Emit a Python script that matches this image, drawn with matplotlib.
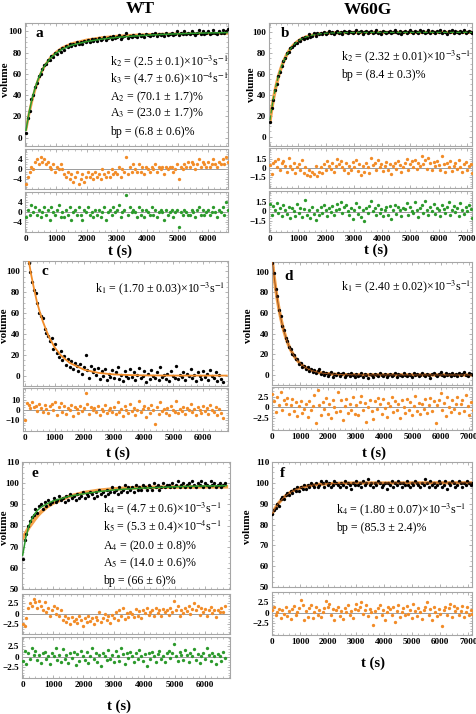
import matplotlib
matplotlib.use("Agg")
import matplotlib.pyplot as plt
from matplotlib.ticker import AutoMinorLocator

plt.rcParams["font.family"] = ["Liberation Serif", "DejaVu Serif"]
plt.rcParams["mathtext.fontset"] = "stix"

# ---------------------------------------------------------------------
# Data
# ---------------------------------------------------------------------
t_wt = [
    0, 60, 120, 180, 240, 300, 360, 420, 480, 540,
    600, 660, 720, 780, 840, 900, 960, 1020, 1080, 1140,
    1200, 1260, 1320, 1380, 1440, 1500, 1560, 1620, 1680, 1740,
    1800, 1860, 1920, 1980, 2040, 2100, 2160, 2220, 2280, 2340,
    2400, 2460, 2520, 2580, 2640, 2700, 2760, 2820, 2880, 2940,
    3000, 3060, 3120, 3180, 3240, 3300, 3360, 3420, 3480, 3540,
    3600, 3660, 3720, 3780, 3840, 3900, 3960, 4020, 4080, 4140,
    4200, 4260, 4320, 4380, 4440, 4500, 4560, 4620, 4680, 4740,
    4800, 4860, 4920, 4980, 5040, 5100, 5160, 5220, 5280, 5340,
    5400, 5460, 5520, 5580, 5640, 5700, 5760, 5820, 5880, 5940,
    6000, 6060, 6120, 6180, 6240, 6300, 6360, 6420, 6480, 6540,
    6600, 6660,
]
t_w60g = [
    0, 60, 120, 180, 240, 300, 360, 420, 480, 540,
    600, 660, 720, 780, 840, 900, 960, 1020, 1080, 1140,
    1200, 1260, 1320, 1380, 1440, 1500, 1560, 1620, 1680, 1740,
    1800, 1860, 1920, 1980, 2040, 2100, 2160, 2220, 2280, 2340,
    2400, 2460, 2520, 2580, 2640, 2700, 2760, 2820, 2880, 2940,
    3000, 3060, 3120, 3180, 3240, 3300, 3360, 3420, 3480, 3540,
    3600, 3660, 3720, 3780, 3840, 3900, 3960, 4020, 4080, 4140,
    4200, 4260, 4320, 4380, 4440, 4500, 4560, 4620, 4680, 4740,
    4800, 4860, 4920, 4980, 5040, 5100, 5160, 5220, 5280, 5340,
    5400, 5460, 5520, 5580, 5640, 5700, 5760, 5820, 5880, 5940,
    6000, 6060, 6120, 6180, 6240, 6300, 6360, 6420, 6480, 6540,
    6600, 6660, 6720, 6780, 6840, 6900, 6960, 7020, 7080, 7140,
    7200,
]

# panel a (WT)
vol_a = [
    4, 18, 25, 36, 40, 48, 51, 58, 60, 65,
    68, 69, 73, 73, 77, 76, 80, 79, 83, 81,
    84, 83, 86, 85, 88, 86, 88, 87, 90, 88,
    90, 88, 91, 90, 92, 90, 93, 91, 93, 91,
    94, 92, 93, 95, 92, 94, 95, 93, 96, 94,
    95, 97, 93, 95, 96, 99, 94, 96, 95, 97,
    96, 95, 98, 96, 97, 95, 98, 97, 96, 98,
    97, 99, 96, 98, 97, 98, 96, 99, 97, 98,
    99, 97, 98, 100, 97, 99, 98, 100, 98, 99,
    98, 100, 99, 97, 99, 101, 98, 100, 98, 99,
    100, 98, 99, 101, 99, 98, 100, 99, 101, 99,
    100, 102,
]
res1_a = [
    -6, -3, -1, 1, 0, 3, 4, 2, 5, 3,
    4, 2, 3, 1, 0, 2, -1, 1, 0, 2,
    0, -2, -3, -1, -4, -2, -5, -3, -1, -6,
    -4, -2, -5, -3, -1, -3, -2, -4, -1, -3,
    -2, -4, 0, -2, -3, -1, -3, 0, -2, -1,
    -2, 1, -3, 0, -1, 5, -2, 1, -1, 2,
    0, -1, 2, -1, 1, -2, 1, 0, -1, 1,
    0, 2, -1, 1, 0, 1, -2, 1, 0, 1,
    1, -1, 0, 2, -4, 1, 0, 2, 1, 3,
    1, 3, 2, 0, 2, 4, 1, 3, 2, 1,
    3, 1, 2, 4, 2, 1, 3, 2, 4, 2,
    5, 3,
]
res2_a = [
    -2, 1, -1, 3, 0, 2, -1, 1, -2, 0,
    2, -1, 1, -3, 2, 0, -1, 1, 3, -2,
    0, -2, 1, -1, 2, -3, 0, 1, -1, 2,
    -1, -3, 1, 0, 2, -1, 0, -2, 1, -1,
    1, -2, 0, 2, -3, 0, 1, -1, 2, 0,
    1, 3, -2, 0, 1, 7, -1, 2, 0, 1,
    0, -2, 2, -1, 1, -2, 1, 0, -1, 2,
    -1, 1, -2, 0, 1, 0, -3, 1, -1, 0,
    1, -2, 0, 1, -6, 0, -1, 1, 0, -1,
    -1, 1, 0, -2, 1, 2, -1, 1, -1, 0,
    1, -1, 0, 2, 0, -2, 1, 0, 2, -1,
    4, 1,
]
fit_t_a = [0, 100, 200, 300, 400, 500, 600, 800, 1000, 1200, 1500,
           2000, 2500, 3000, 3500, 4000, 4500, 5000, 5500, 6000, 6700]
fit1_a = [7.5, 22.5, 35, 45.5, 54, 61, 66.8, 75, 80.6, 84.6, 88.5,
          92, 94.2, 95.6, 96.5, 97.1, 97.5, 97.8, 98, 98.1, 98.2]
fit2_a = [6.9, 23.5, 36.6, 46.9, 55.1, 61.7, 67.1, 74.7, 79.8, 83.4, 87.0,
          90.5, 92.8, 94.4, 95.6, 96.5, 97.2, 97.8, 98.3, 98.6, 99.0]

# panel b (W60G)
vol_b = [
    14, 27, 35, 45, 50, 58, 62, 68, 73, 75,
    80, 81, 85, 86, 88, 90, 90, 93, 92, 95,
    94, 96, 95, 98, 96, 97, 99, 97, 99, 98,
    99, 98, 100, 98, 99, 101, 99, 100, 98, 100,
    101, 99, 100, 98, 101, 100, 99, 101, 100, 99,
    100, 102, 99, 100, 101, 98, 100, 101, 99, 100,
    101, 99, 100, 102, 99, 100, 98, 101, 100, 99,
    100, 101, 99, 100, 102, 100, 99, 101, 98, 100,
    101, 99, 100, 102, 100, 99, 101, 100, 99, 102,
    100, 101, 99, 100, 102, 99, 101, 100, 99, 101,
    100, 102, 99, 101, 100, 98, 101, 100, 102, 99,
    101, 100, 99, 101, 100, 102, 99, 100, 101, 100,
    99,
]
res1_b = [
    0.5, -1, 0.8, 1.2, 0.2, 1.5, -0.4, 0.9, 1.1, 0.3,
    -0.6, 1.6, 0.4, -0.2, 0.8, -0.9, 0.1, 0.6, -0.4, 1.3,
    -0.8, 0.2, -1.1, -0.3, -1.4, -0.6, -1, 0.3, -1.3, -0.7,
    0.2, -0.9, 0.6, -0.4, 1.2, 0.4, -0.2, 0.9, -0.6, 0.3,
    1.5, 0.6, 1.1, 0.2, -0.3, 0.9, -0.8, 0.4, -0.4, 1,
    0.1, 1.4, -0.5, 0.6, -1.2, 0.3, -0.6, 0.8, 0.2, -0.9,
    1.6, 0.5, 0.9, -0.3, 1.3, 0.1, 0.7, -0.5, 0.4, 1,
    -0.4, 0.6, -1, 0.3, 0.9, -0.2, 1.2, 0.5, -0.6, 0.2,
    0.8, 1.5, -0.3, 0.6, 1.1, 0.2, 1.4, -0.2, 0.9, 0.4,
    2, 0.6, 1.3, -0.1, 1.7, 0.8, -0.4, 1, 0.3, 1.2,
    0.5, -0.3, 1.9, 0.7, -0.6, 0.9, 0.2, 1.1, -0.5, 0.4,
    0.8, -0.2, 1.3, 0.1, -0.7, 0.6, 1, -0.4, 0.3, 0.7,
    -0.9,
]
res2_b = [
    1.2, -0.5, 0.9, 0.3, 1.4, -0.2, 0.6, -0.8, 1, 0.2,
    -0.4, 0.8, -1.1, 0.5, 0.1, -0.7, 1.2, -0.3, 0.6, -0.9,
    0.4, 1.8, -0.6, 0.2, -1, 0.7, -0.4, -1.3, 0.3, -0.5,
    0.8, -0.2, 1.1, 0.3, -0.8, 0.5, -0.1, 0.9, -0.6, 0.2,
    1.2, 0.4, 1.5, -0.3, 0.7, 1, 0.1, -0.5, 0.6, -1.2,
    0.3, 1.4, -0.4, 0.8, -0.9, 0.2, -1.6, 0.5, -0.3, 0.9,
    1.7, 0.1, 0.6, -0.6, 1, -0.2, 0.4, -0.8, 0.3, 0.7,
    -0.5, 0.9, -1.2, 0.2, 1.1, -0.4, 0.8, 0.3, -0.7, 0.5,
    0.4, 1.3, -0.6, 0.7, 0.1, -0.3, 1.6, 0.2, -0.9, 0.6,
    1, -0.2, 1.7, 0.3, -0.5, 0.8, 0.1, 1.2, -0.4, 0.5,
    0.2, -0.8, 1.1, 0.4, -0.3, 0.7, 1.5, -0.6, 0.3, 0.9,
    -0.1, 0.6, -0.7, 1.3, 0.2, -0.4, 0.8, 0.1, 1, 0.4,
    -1.1,
]
fit_t_b = [0, 60, 120, 180, 240, 300, 360, 420, 480, 540, 600, 720,
           840, 960, 1080, 1200, 1400, 1600, 1800, 2000, 2500, 3000, 7200]
fit1_b = [15, 26.2, 35.8, 44.1, 51.3, 57.7, 63.1, 67.8, 71.9, 75.3, 78.9, 84,
          87.9, 90.8, 93, 94.7, 96.6, 97.9, 98.7, 99.2, 99.7, 99.9, 100]
fit2_b = [16, 27, 36.5, 44.7, 51.8, 58, 63.4, 68, 72, 75.5, 79, 84,
          87.9, 90.8, 93, 94.7, 96.6, 97.9, 98.7, 99.2, 99.7, 99.9, 100]

# panel c (WT)
vol_c = [
    135, 121, 108, 99, 90, 82, 79, 70, 60, 57,
    55, 45, 41, 38, 33, 36, 26, 30, 22, 18,
    24, 15, 19, 10, 16, 8, 14, 6, 12, 9,
    4, 11, 2, 8, 20, 5, -2, 9, 3, 6,
    1, 7, -3, 4, 0, 6, -4, 2, -1, 5,
    -2, 3, 8, -3, 1, -5, 4, 0, -2, 6,
    -1, 3, -4, 1, 7, -2, 0, 4, -6, 2,
    -3, 5, 0, -2, 3, -4, 8, -1, 1, -3,
    2, -5, 4, 0, -2, 9, -3, 1, -1, 3,
    -4, 2, 0, 6, -2, 1, -5, 3, 0, -3,
    4, -1, 2, -4, 5, 0, -2, 3, -5, 1,
    -3, -6,
]
res_c = [
    -10, 7, 5, 2, 8, 3, 4, -1, 6, 2,
    -2, 5, 1, -3, 4, 6, 0, 8, -5, 3,
    7, -2, 4, -4, 2, 0, 5, -6, 3, 1,
    -3, 4, -1, 2, 17, 6, -4, 3, 0, 2,
    -2, 4, -5, 1, -1, 5, -3, 0, 2, -2,
    3, -4, 8, -2, 1, -6, 4, 0, -3, 6,
    -1, 2, -5, 0, 9, -2, 1, 4, -7, 2,
    -3, 5, 0, -14, 3, -4, 8, -1, 1, -3,
    2, -5, 4, 0, -2, 9, -3, 1, -1, 3,
    -4, 2, 0, 6, -2, 1, -5, 3, 0, -3,
    4, -1, 2, -4, 5, 0, -2, 3, -5, 1,
    -3, -8,
]
fit_t_c = [0, 100, 200, 300, 400, 500, 600, 800, 1000, 1200, 1500,
           2000, 2500, 3000, 3500, 4000, 5000, 6800]
fit_c = [135, 115, 98, 84, 71, 61, 52, 37.5, 27, 19.7, 12.3,
         5.5, 2.5, 1.1, 0.5, 0.2, 0, 0]

# panel d (W60G)
vol_d = [
    108, 99, 83, 76, 63, 57, 47, 44, 36, 33,
    27, 25, 20, 19, 15, 15, 11, 12, 8, 9,
    6, 8, 4, 6, 3, 5, 2, 4, 6, 1,
    3, 0, 2, -1, 1, 3, -2, 1, 0, 2,
    -1, 1, 2, -2, 0, 1, -1, 2, 0, -2,
    1, -1, 0, 2, -2, 1, 0, -3, 1, 0,
    -2, 1, 0, -1, 2, 0, -1, 1, -2, 0,
    1, -1, 0, 2, -2, 1, 0, -1, 2, 0,
    -1, 1, 0, -2, 2, 0, 1, -1, 0, 2,
    0, -1, 1, 0, -3, 1, 2, 0, -1, 1,
    3, 0, -1, 2, 0, 1, -1, 2, 0, 1,
    -1, 2, 0, 1, 3, 0, -1, 2, 1, 0,
    1,
]
res_d = [
    3, 1.5, -1, 2.5, 0.5, 3.5, -0.5, 1.8, 0.8, 2.2,
    -1.5, 0.6, 2, -0.8, 1.2, -2, 0.4, 1.5, -1.2, -0.3,
    0.8, -2.2, 1.5, -0.6, 0.3, 2.8, -3.5, 4, 0.5, -1.8,
    1.2, -0.4, 2.2, -1.6, 0.7, -2.5, 1.8, 0.2, -1, 3.5,
    -0.8, 1.6, -2.8, 0.4, 2, -1.2, 0.9, -0.5, 2.4, -1.6,
    0.6, -1.8, 1.3, 2.7, -0.7, 1.1, -3.3, 0.2, 1.7, -0.9,
    -2.6, 1.4, -0.4, 2.1, 0.8, -1.5, 1.9, -0.2, -2.1, 1,
    0.3, 2.3, -1.1, 1.5, -0.6, 0.9, -2.4, 1.8, 0.1, -1.3,
    2, -0.5, 1.2, -1.8, 0.4, 2.6, -0.9, 1.1, -1.6, 0.7,
    -0.3, 1.9, -1.2, 0.6, 2.2, -0.8, 1.4, -3.6, 0.5, 1.7,
    3.4, -0.6, 1, -1.9, 2.3, 0.2, -1.1, 1.6, -0.4, 0.9,
    2.4, -1.3, 0.7, 1.8, -0.9, 2.9, 0.3, -1.7, 1.2, -0.5,
    1.5,
]
fit_t_d = [0, 60, 120, 180, 240, 300, 360, 420, 480, 540, 600, 660, 720,
           780, 840, 900, 960, 1020, 1080, 1140, 1200, 1320, 1440, 1560,
           1680, 1800, 2100, 2400, 3000, 7200]
fit_d = [112, 97.6, 84.9, 73.9, 64.4, 56.1, 48.8, 42.5, 37, 32.2, 28, 24.4,
         21.3, 18.5, 16.1, 14, 12.2, 10.7, 9.3, 8.1, 7.1, 5.3, 4.1, 3.1,
         2.3, 1.8, 0.9, 0.4, 0.1, 0]

# panel e (WT)
vol_e = [
    64, 73, 76, 80, 82, 84, 85, 88, 86, 89,
    90, 88, 91, 89, 92, 90, 91, 93, 91, 92,
    94, 92, 93, 91, 94, 92, 95, 93, 94, 92,
    95, 93, 94, 96, 93, 95, 94, 96, 95, 93,
    96, 94, 97, 95, 96, 94, 97, 95, 96, 98,
    96, 97, 95, 98, 96, 97, 99, 96, 98, 97,
    98, 96, 99, 97, 98, 97, 99, 98, 97, 99,
    98, 97, 100, 98, 99, 97, 98, 100, 98, 99,
    99, 98, 100, 98, 99, 101, 98, 99, 100, 98,
    99, 100, 98, 101, 99, 98, 100, 99, 101, 98,
    100, 99, 98, 101, 99, 100, 98, 99, 100, 98,
    99, 100,
]
res1_e = [
    -2.5, -3, -1, 1.5, 2.5, 1.8, 3.5, 2.8, 1.5, 3.2,
    2, 1, 2.8, 0.5, 1.5, -0.5, 1, 2, 0, 1.5,
    -0.5, 0.8, -1.5, -0.5, -2, -1, -2.5, -0.8, -1.8, -1.2,
    -2.2, -0.5, -1.5, -3, -1, -2, -0.5, -1.8, -1, -2.5,
    -0.8, -1.5, 0.5, -2, -1, 0, -1.5, -0.5, -2.2, -0.2,
    -1, 0.5, -1.5, 0.8, -0.5, 1.5, -1.2, 0.2, -0.8, 0.5,
    0, -0.8, 1.2, -0.5, 0.6, -1, 0.8, 0.2, 1.5, -0.3,
    0.5, 1, -0.5, 1.5, 0.2, 0.8, -0.6, 1.2, 0.4, 1,
    -0.2, 1.3, 0.5, 3.2, 0.8, 1.8, -0.5, 1, 0.3, 1.5,
    0.6, 1.8, 0, 1.2, 2.6, 1, 2, -0.4, 1.4, 0.5,
    1.2, -0.5, 1, 1.6, 0.2, 0.8, -0.8, 1, 0.4, 1.5,
    0.5, 1.8,
]
res2_e = [
    -1, 1.5, -1.8, 1, -0.5, 2, 0.5, 1.5, -0.8, 0.5,
    -1.5, 0.8, 1.2, -0.5, 0.2, -1.6, 1, 0.3, 2.2, -0.8,
    0.5, -1.2, 1.8, -0.6, 0.4, -1.5, 0.9, -0.3, 1.2, -2,
    0.6, -1, 1.5, 0.2, -0.8, 1.1, -1.4, 0.3, 2, -0.5,
    0.8, -1.3, 0.4, -2.2, 1, 0.2, -0.7, 1.6, -0.4, 0.5,
    -1.1, 1.3, 0.2, -0.9, 2.1, 0.6, -1.6, 0.9, -0.3, 1.2,
    0.3, -1.2, 0.8, -0.4, 1.7, 0.1, -1, 0.6, -2.2, 0.9,
    -0.5, 1.1, 0.2, -1.3, 0.7, 1.5, -0.6, 0.3, -1.1, 0.8,
    1.4, -0.2, 0.9, 3, 0.3, -1, 1.2, 0.5, -0.8, 1.6,
    0.4, -1.3, 0.8, 0.1, 1.9, -0.7, 0.6, -1.5, 0.2, 1,
    -0.4, 2.2, 0.5, -1, 0.8, 0.2, -1.6, 0.7, 0.3, -0.9,
    1.2, -0.3,
]
fit_t_e = [0, 100, 200, 300, 400, 500, 600, 800, 1000, 1500, 2000,
           2500, 3000, 3500, 4000, 4500, 5000, 5500, 6000, 6700]
fit1_e = [74, 76.5, 79, 81, 83, 84.8, 86.3, 88.8, 90.6, 93.6, 95.5,
          96.6, 97.3, 97.7, 98, 98.1, 98.2, 98.2, 98.3, 98.3]
fit2_e = [66, 74.2, 79.6, 83.2, 85.6, 87.4, 88.6, 90.3, 91.6, 93.7, 95,
          96, 96.8, 97.3, 97.7, 98, 98.3, 98.5, 98.7, 98.8]

# panel f (W60G)
vol_f = [
    85, 87, 88, 90, 89, 92, 93, 92, 94, 95,
    94, 96, 95, 97, 96, 98, 96, 98, 97, 99,
    97, 99, 98, 100, 99, 98, 100, 98, 99, 101,
    100, 98, 101, 99, 100, 98, 99, 101, 100, 99,
    98, 100, 99, 101, 98, 100, 99, 97, 100, 99,
    101, 99, 100, 98, 101, 99, 100, 102, 99, 100,
    98, 100, 99, 101, 100, 98, 99, 100, 97, 100,
    99, 101, 98, 100, 99, 101, 100, 98, 100, 99,
    101, 99, 98, 100, 99, 101, 100, 99, 98, 100,
    99, 102, 100, 98, 101, 99, 100, 98, 99, 101,
    100, 98, 99, 101, 97, 100, 99, 101, 100, 98,
    99, 101, 100, 98, 100, 99, 101, 100, 99, 100,
    99,
]
res_f = [
    0.8, 1.5, -0.5, 0.2, 1, -1.2, 0.6, -0.3, 1.3, -0.8,
    0.4, -1.5, 0.9, 1.6, -0.6, 0.3, 1.2, 3, 1.8, -1.7,
    0.5, -0.9, 1.1, 2, -1.3, 0.2, 1.4, -0.5, 0.8, -1.1,
    0.3, 1.2, 2.8, 1.5, 2.2, -0.4, 0.9, -1.6, 0.6, 1.3,
    -0.8, 0.5, -1.4, 1.1, 0.2, 1.8, -0.6, 0.4, -1.2, 0.9,
    2.2, 0.6, 1.4, 2.5, -0.3, 0.8, 1.9, -0.7, 1, 0.3,
    -2.8, 0.4, -1.1, 1.2, 2, -0.5, 0.7, -1.6, 0.2, 1.5,
    0.9, -0.4, 1.3, -2.2, 0.5, 1.8, -0.9, 0.3, 1.1, -0.6,
    1.6, -0.2, 0.7, -1.3, 2.1, 0.4, -0.8, 1.2, 0.1, -1.5,
    0.6, 1.4, 2.7, -0.5, 0.9, -1.8, 1.3, 0.2, -0.7, 1,
    -0.3, -3.1, 0.8, 1.5, -0.4, 1.1, 2.2, -0.9, 1.6, 0.5,
    1.2, -0.6, 0.4, 1.7, -1, 0.3, 1.4, -0.5, 0.8, -0.2,
    0.6,
]
fit_t_f = [0, 60, 120, 180, 240, 300, 360, 420, 480, 540, 600, 720, 840,
           960, 1080, 1200, 1440, 1680, 1920, 2400, 3000, 7200]
fit_f = [85.3, 86.8, 88.1, 89.4, 90.5, 91.4, 92.3, 93.1, 93.8, 94.4, 95, 96,
         96.8, 97.4, 97.9, 98.3, 98.9, 99.3, 99.5, 99.8, 99.9, 100]

text_a = ["k$_2$ = (2.5 ± 0.1)×10$^{-3}$s$^{-1}$",
          "k$_3$ = (4.7 ± 0.6)×10$^{-4}$s$^{-1}$",
          "A$_2$ = (70.1 ± 1.7)%", "A$_3$ = (23.0 ± 1.7)%",
          "bp = (6.8 ± 0.6)%"]
text_b = ["k$_2$ = (2.32 ± 0.01)×10$^{-3}$s$^{-1}$", "bp = (8.4 ± 0.3)%"]
text_c = ["k$_1$ = (1.70 ± 0.03)×10$^{-3}$s$^{-1}$"]
text_d = ["k$_1$ = (2.40 ± 0.02)×10$^{-3}$s$^{-1}$"]
text_e = ["k$_4$ = (4.7 ± 0.6)×10$^{-3}$s$^{-1}$",
          "k$_5$ = (5.3 ± 0.4)×10$^{-4}$s$^{-1}$",
          "A$_4$ = (20.0 ± 0.8)%", "A$_5$ = (14.0 ± 0.6)%",
          "bp = (66 ± 6)%"]
text_f = ["k$_4$ = (1.80 ± 0.07)×10$^{-3}$s$^{-1}$", "bp = (85.3 ± 2.4)%"]

xt_wt = [0, 1000, 2000, 3000, 4000, 5000, 6000]
xt_w60g = [0, 1000, 2000, 3000, 4000, 5000, 6000, 7000]

# ---------------------------------------------------------------------
# Style
# ---------------------------------------------------------------------
W, H = 477, 714
FRAME = "#a6a6a6"
ORANGE = "#f28c28"
GREEN = "#2c9a2c"
FIT_OR = "#f5a24a"

fig = plt.figure(figsize=(W / 100, H / 100), dpi=100)


def box(x0, y0, x1, y1):
    return fig.add_axes([x0 / W, 1 - y1 / H, (x1 - x0) / W, (y1 - y0) / H])


def frame(ax, xlim, ylim, xticks, yticks, ylabels, show_x=False):
    ax.set_xlim(*xlim)
    ax.set_ylim(*ylim)
    for s in ax.spines.values():
        s.set_color(FRAME)
        s.set_linewidth(0.8)
    ax.set_xticks(xticks)
    ax.set_xticklabels([str(v) for v in xticks])
    ax.set_yticks(yticks)
    ax.set_yticklabels(ylabels)
    ax.xaxis.set_minor_locator(AutoMinorLocator(5))
    ax.yaxis.set_minor_locator(AutoMinorLocator(4))
    ax.tick_params(which="both", direction="in", color=FRAME,
                   top=True, right=True, labelsize=6.6, pad=2)
    ax.tick_params(which="major", length=2.5, width=0.6)
    ax.tick_params(which="minor", length=1.3, width=0.5)
    ax.tick_params(axis="x", labelbottom=show_x)
    for lab in ax.get_xticklabels() + ax.get_yticklabels():
        lab.set_fontweight("bold")


def dots(ax, t, y, color):
    ax.plot(t, y, "o", ms=2.4, mew=0, color=color, zorder=3)


def resid(ax, t, y, color):
    ax.axhline(0, color="#8c8c8c", lw=0.6, zorder=1)
    dots(ax, t, y, color)


def notes(ax, x, ys, lines):
    for yy, s in zip(ys, lines):
        ax.text(x, yy, s, transform=ax.transAxes, fontsize=8.6,
                ha="left", va="center")


def letter(ax, x, y, s):
    ax.text(x, y, s, transform=ax.transAxes, fontsize=11,
            fontweight="bold", ha="left", va="center")


vt = [0, 20, 40, 60, 80, 100]
vt_e = [50, 60, 70, 80, 90, 100, 110]

# ---------------------------------------------------------------------
# Panel a / b
# ---------------------------------------------------------------------
ax = box(25, 23, 228, 146)
ax.plot(fit_t_a, fit1_a, color=FIT_OR, lw=2.0, zorder=2)
dots(ax, t_wt, vol_a, "black")
ax.plot(fit_t_a, fit2_a, color=GREEN, lw=1.1, zorder=4)
frame(ax, (-33, 6660), (-8, 108), xt_wt, vt, [str(v) for v in vt])
letter(ax, 0.05, 0.915, "a")
notes(ax, 0.42, [0.685, 0.545, 0.40, 0.266, 0.116], text_a)

ax = box(25, 149, 228, 189)
resid(ax, t_wt, res1_a, ORANGE)
frame(ax, (-33, 6660), (-8, 8), xt_wt, [-4, 0, 4], ["\u22124", "0", "4"])
ax = box(25, 192, 228, 232)
resid(ax, t_wt, res2_a, GREEN)
frame(ax, (-33, 6660), (-8, 8), xt_wt, [-4, 0, 4], ["\u22124", "0", "4"],
      show_x=True)

ax = box(269, 23, 472, 146)
ax.plot(fit_t_b, fit1_b, color=FIT_OR, lw=2.4, zorder=2)
dots(ax, t_w60g, vol_b, "black")
ax.plot(fit_t_b, fit2_b, color=GREEN, lw=0.9, ls="--", zorder=4)
frame(ax, (-36, 7190), (-9, 109), xt_w60g, vt, [str(v) for v in vt])
letter(ax, 0.06, 0.915, "b")
notes(ax, 0.355, [0.73, 0.577], text_b)

ax = box(269, 148, 472, 188)
resid(ax, t_w60g, res1_b, ORANGE)
frame(ax, (-36, 7190), (-3.3, 3.3), xt_w60g, [-1.5, 0, 1.5],
      ["\u22121.5", "0", "1.5"])
ax = box(269, 191, 472, 232)
resid(ax, t_w60g, res2_b, GREEN)
frame(ax, (-36, 7190), (-3.3, 3.3), xt_w60g, [-1.5, 0, 1.5],
      ["\u22121.5", "0", "1.5"], show_x=True)

# ---------------------------------------------------------------------
# Panel c / d
# ---------------------------------------------------------------------
ax = box(23, 261, 228, 386)
dots(ax, t_wt, vol_c, "black")
ax.plot(fit_t_c, fit_c, color=ORANGE, lw=1.3, zorder=4)
frame(ax, (-67, 6840), (-10, 110), xt_wt, vt, [str(v) for v in vt])
letter(ax, 0.09, 0.915, "c")
notes(ax, 0.35, [0.78], text_c)

ax = box(23, 388, 228, 431)
resid(ax, t_wt, res_c, ORANGE)
frame(ax, (-67, 6840), (-20.4, 21.4), xt_wt, [-10, 0, 10],
      ["\u221210", "0", "10"], show_x=True)

ax = box(272, 262, 472, 385)
ax.plot(fit_t_d, fit_d, color=FIT_OR, lw=2.4, zorder=2)
dots(ax, t_w60g, vol_d, "black")
ax.plot(fit_t_d, fit_d, color="#a0521a", lw=0.7, zorder=4)
frame(ax, (-5, 7120), (-9.7, 109.4), xt_w60g, vt, [str(v) for v in vt])
letter(ax, 0.06, 0.88, "d")
notes(ax, 0.345, [0.80], text_d)

ax = box(272, 387, 472, 430)
resid(ax, t_w60g, res_d, ORANGE)
frame(ax, (-5, 7120), (-5.2, 4.7), xt_w60g, [-2.5, 0, 2.5],
      ["\u22122.5", "0", "2.5"], show_x=True)

# ---------------------------------------------------------------------
# Panel e / f
# ---------------------------------------------------------------------
ax = box(22, 462, 230, 589)
ax.plot(fit_t_e, fit1_e, color=FIT_OR, lw=2.6, zorder=2)
dots(ax, t_wt, vol_e, "black")
ax.plot(fit_t_e, fit2_e, color=GREEN, lw=1.1, zorder=4)
frame(ax, (-23, 6820), (50, 110), xt_wt, vt_e, [str(v) for v in vt_e])
letter(ax, 0.045, 0.91, "e")
notes(ax, 0.39, [0.635, 0.49, 0.34, 0.20, 0.063], text_e)

ax = box(22, 594, 230, 634)
resid(ax, t_wt, res1_e, ORANGE)
frame(ax, (-23, 6820), (-4.9, 4.8), xt_wt, [-2.5, 0, 2.5],
      ["\u22122.5", "0", "2.5"])
ax = box(22, 637, 230, 678)
resid(ax, t_wt, res2_e, GREEN)
frame(ax, (-23, 6820), (-5, 4.7), xt_wt, [-2.5, 0, 2.5],
      ["\u22122.5", "0", "2.5"], show_x=True)

ax = box(272, 462, 472, 587)
ax.plot(fit_t_f, fit_f, color=FIT_OR, lw=2.4, zorder=2)
dots(ax, t_w60g, vol_f, "black")
ax.plot(fit_t_f, fit_f, color="#a0521a", lw=0.7, zorder=4)
frame(ax, (-10, 7130), (50, 110), xt_w60g, vt_e, [str(v) for v in vt_e])
letter(ax, 0.04, 0.91, "f")
notes(ax, 0.32, [0.616, 0.47], text_f)

ax = box(272, 592, 472, 635)
resid(ax, t_w60g, res_f, ORANGE)
frame(ax, (-10, 7130), (-5.3, 5), xt_w60g, [-2.5, 0, 2.5],
      ["\u22122.5", "0", "2.5"], show_x=True)

# ---------------------------------------------------------------------
# Labels
# ---------------------------------------------------------------------
fig.text(140 / W, 1 - 9 / H, "WT", fontsize=12.5, fontweight="bold",
         ha="center", va="center")
fig.text(368 / W, 1 - 10 / H, "W60G", fontsize=12.5, fontweight="bold",
         ha="center", va="center")

for x, y in [(6, 80), (252, 85), (5, 326), (249, 326), (5, 528), (248, 527)]:
    fig.text(x / W, 1 - y / H, "volume", rotation=90, fontsize=8,
             fontweight="bold", ha="center", va="center")

for x, y in [(120, 251), (376, 250), (118, 453), (374, 453), (119, 706),
             (373, 663)]:
    fig.text(x / W, 1 - y / H, "t (s)", fontsize=10.5, fontweight="bold",
             ha="center", va="center")

fig.savefig("out.png", dpi=100)
